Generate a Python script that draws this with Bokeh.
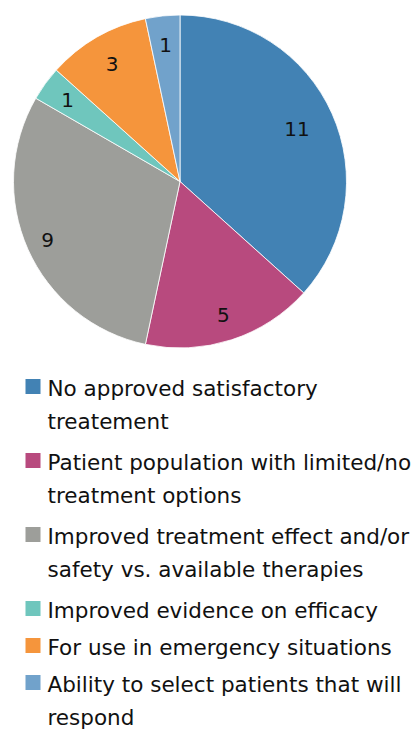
import math
from bokeh.plotting import figure
from bokeh.models import Range1d, ColumnDataSource
from bokeh.core.properties import value
from bokeh.embed import file_html
from bokeh.resources import INLINE

# ---- data ----
categories = [
    "No approved satisfactory\ntreatement",
    "Patient population with limited/no\ntreatment options",
    "Improved treatment effect and/or\nsafety vs. available therapies",
    "Improved evidence on efficacy",
    "For use in emergency situations",
    "Ability to select patients that will\nrespond",
]
counts = [11, 5, 9, 1, 3, 1]
colors = ["#4282b4", "#b84a7e", "#9d9e9a", "#6fc6bd", "#f5953c", "#71a2cb"]

# ---- layout / style ----
W, H = 414, 731
FONT = "DejaVu Sans"
cx_px, cy_px, R = 179.5, 181.0, 166.5
label_radius = [128, 140, 145, 139, 136, 137]  # label distance from centre (px)

p = figure(width=W, height=H, output_backend="svg", toolbar_location=None,
           x_range=Range1d(0, W), y_range=Range1d(0, H), min_border=0)
p.axis.visible = False
p.grid.visible = False
p.outline_line_color = None
p.background_fill_color = "white"
p.border_fill_color = "white"

def Y(py):
    return H - py

total = float(sum(counts))
starts, ends, lx, ly = [], [], [], []
cum = 0.0
for c, lr in zip(counts, label_radius):
    a0 = math.pi / 2 - 2 * math.pi * cum / total
    a1 = math.pi / 2 - 2 * math.pi * (cum + c) / total
    starts.append(a1)
    ends.append(a0)
    mid = (a0 + a1) / 2
    lx.append(cx_px + lr * math.cos(mid))
    ly.append(Y(cy_px) + lr * math.sin(mid))
    cum += c

src = ColumnDataSource(dict(start=starts, end=ends, color=colors,
                            lx=lx, ly=ly, txt=[str(c) for c in counts]))
p.wedge(x=cx_px, y=Y(cy_px), radius=R, start_angle="start", end_angle="end",
        direction="anticlock", fill_color="color", line_color="white",
        line_width=0.8, source=src)
p.text(x="lx", y="ly", text="txt", source=src, text_font=value(FONT),
       text_font_size="20px", text_color="#111111", text_align="center",
       text_baseline="middle")

# ---- legend ----
base = 395.0
item_step = 37.0
line_h = 33.0
sq_x, sq_s, tx = 32.5, 15, 47
lines_x, lines_y, lines_t = [], [], []
sq_y = []
for cat in categories:
    parts = cat.split("\n")
    sq_y.append(Y(base - 16.5 + sq_s / 2))
    for i, t in enumerate(parts):
        lines_x.append(tx)
        lines_y.append(Y(base + i * line_h - 7.5))
        lines_t.append(t)
    base += item_step * len(parts)

p.rect(x=[sq_x] * len(colors), y=sq_y, width=sq_s, height=sq_s,
       fill_color=colors, line_color=None)
p.text(x=lines_x, y=lines_y, text=lines_t, text_font=value(FONT),
       text_font_size="21.5px", text_color="#111111", text_align="left",
       text_baseline="middle")

open("out.html", "w").write(file_html(p, INLINE))
